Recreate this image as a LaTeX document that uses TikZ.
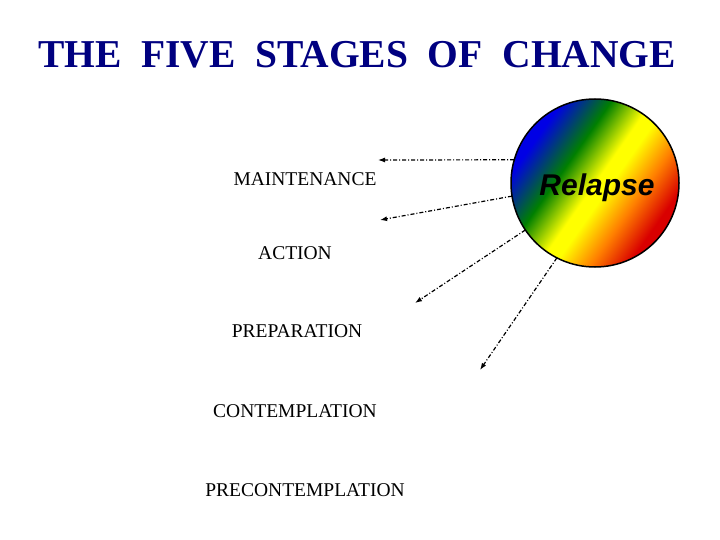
\documentclass[tikz,border=0pt]{standalone}
\usepackage{fontspec}
\usetikzlibrary{arrows.meta}
\setmainfont{Liberation Serif}
\newfontfamily\sansf{Liberation Sans}
\pgfdeclarehorizontalshading{rainbow}{100bp}{color(0bp)=(blue!90!black); color(28bp)=(blue!90!black); color(40bp)=(green!50!black); color(50bp)=(yellow); color(54bp)=(yellow); color(63bp)=(orange); color(72bp)=(red!85!black); color(100bp)=(red!85!black)}
\definecolor{navy}{RGB}{0,0,128}
\begin{document}
\begin{tikzpicture}[x=1pt,y=-1pt,
  stage/.style={font=\fontsize{19.5}{22}\selectfont, inner sep=0pt},
  rel/.style={-{Latex[length=7pt,width=5pt]}, dash pattern=on 4pt off 2pt on 1pt off 2pt, line width=1.2pt}]
\useasboundingbox (0,0) rectangle (720,540);
\node[font=\fontsize{39.5}{44}\selectfont\bfseries, text=navy] (title) at (357,55) {THE\ \ FIVE\ \ STAGES\ \ OF\ \ CHANGE};
\node[stage] (m) at (305,179) {MAINTENANCE};
\node[stage] (a) at (295,253) {ACTION};
\node[stage] (p) at (297,331) {PREPARATION};
\node[stage] (c) at (295,411) {CONTEMPLATION};
\node[stage] (pc) at (305,490) {PRECONTEMPLATION};
\path[shading=rainbow, shading angle=-35, draw=black, line width=1.5pt] (595,183) circle (84);
\node[circle, minimum size=168pt, inner sep=0pt] (r) at (595,183) {};
\node[font=\sansf\bfseries\itshape\fontsize{30}{32}\selectfont] (rt) at (597,188) {Relapse};
\coordinate (e1) at (378,160);
\coordinate (e2) at (380,220);
\coordinate (e3) at (415,303);
\coordinate (e4) at (480,370);
\draw[rel] (r.164) -- (e1);
\draw[rel] (r.189) -- (e2);
\draw[rel] (r.214) -- (e3);
\draw[rel] (r.243) -- (e4);
\end{tikzpicture}
\end{document}
